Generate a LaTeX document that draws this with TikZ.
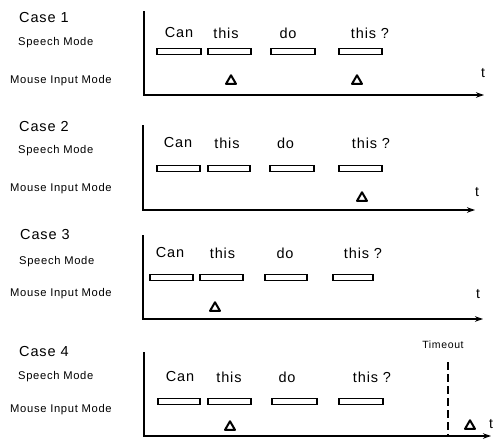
\documentclass[tikz,border=0pt]{standalone}
\usepackage{fontspec}
\setmainfont{Liberation Sans}
\newfontfamily\wide{Liberation Sans}[LetterSpace=6]
\usetikzlibrary{arrows.meta,shapes.geometric}

\tikzset{
  casetitle/.style={anchor=west, inner sep=0pt, font=\wide\fontsize{14.5}{15}\selectfont},
  modelabel/.style={anchor=west, inner sep=0pt, font=\wide\fontsize{11.2}{12}\selectfont},
  word/.style={inner sep=0pt, font=\wide\fontsize{14.5}{15}\selectfont},
  tlabel/.style={inner sep=0pt, font=\fontsize{14}{15}\selectfont},
  smalllabel/.style={inner sep=0pt, font=\wide\fontsize{10.5}{11}\selectfont},
  wordbox/.style={draw, line width=1.1pt, inner sep=0pt, minimum height=6.5pt},
  click/.style={draw, regular polygon, regular polygon sides=3, minimum size=11.5pt,
                inner sep=0pt, line width=2pt, line join=round},
  axisline/.style={line width=1.1pt, -{Stealth[length=8pt,width=5.5pt]}},
  timeline/.style={line width=1.1pt, dash pattern=on 8pt off 4pt},
}

\begin{document}
\begin{tikzpicture}[x=1pt,y=-1pt]
\useasboundingbox (0,0) rectangle (500,439);

% ---------- Case 1 ----------
\node[casetitle] (t1) at (19,18) {Case 1};
\node[modelabel] (s1) at (18,43) {Speech Mode};
\node[modelabel] (m1) at (10,81) {Mouse Input Mode};
\coordinate (top1) at (144,11);
\coordinate (o1) at (144,95);
\coordinate (e1) at (484,95);
\draw[axisline] (top1) -- (o1) -- (e1);
\node[tlabel] (tt1) at (483,73) {t};
\node[word] (w11) at (179,33) {Can};
\node[word] (w12) at (226,33) {this};
\node[word] (w13) at (288,33) {do};
\node[word] (w14) at (370,33) {this ?};
\node[wordbox, minimum width=44pt] (b11) at (179,51.5) {};
\node[wordbox, minimum width=43pt] (b12) at (229.5,51.5) {};
\node[wordbox, minimum width=44pt] (b13) at (293,51.5) {};
\node[wordbox, minimum width=43pt] (b14) at (360.5,51.5) {};
\node[click] (c11) at (231,81) {};
\node[click] (c12) at (357,81) {};

% ---------- Case 2 ----------
\node[casetitle] (t2) at (19,127) {Case 2};
\node[modelabel] (s2) at (18,151) {Speech Mode};
\node[modelabel] (m2) at (10,189) {Mouse Input Mode};
\coordinate (top2) at (143,125);
\coordinate (o2) at (143,210);
\coordinate (e2) at (475,210);
\draw[axisline] (top2) -- (o2) -- (e2);
\node[tlabel] (tt2) at (477,192) {t};
\node[word] (w21) at (178,143) {Can};
\node[word] (w22) at (227,143) {this};
\node[word] (w23) at (285.5,143) {do};
\node[word] (w24) at (371,143) {this ?};
\node[wordbox, minimum width=43pt] (b21) at (178.5,168.5) {};
\node[wordbox, minimum width=42pt] (b22) at (229,168.5) {};
\node[wordbox, minimum width=44pt] (b23) at (292,168.5) {};
\node[wordbox, minimum width=43pt] (b24) at (360.5,168.5) {};
\node[click] (c21) at (362,198) {};

% ---------- Case 3 ----------
\node[casetitle] (t3) at (20,235) {Case 3};
\node[modelabel] (s3) at (19,262) {Speech Mode};
\node[modelabel] (m3) at (10,294) {Mouse Input Mode};
\coordinate (top3) at (143,235);
\coordinate (o3) at (143,319);
\coordinate (e3) at (483,319);
\draw[axisline] (top3) -- (o3) -- (e3);
\node[tlabel] (tt3) at (478,294) {t};
\node[word] (w31) at (170,253) {Can};
\node[word] (w32) at (222.5,253) {this};
\node[word] (w33) at (285,253) {do};
\node[word] (w34) at (363,253) {this ?};
\node[wordbox, minimum width=43pt] (b31) at (171.5,277.5) {};
\node[wordbox, minimum width=43pt] (b32) at (221.5,277.5) {};
\node[wordbox, minimum width=42pt] (b33) at (286,277.5) {};
\node[wordbox, minimum width=40pt] (b34) at (353,277.5) {};
\node[click] (c31) at (215,308) {};

% ---------- Case 4 ----------
\node[casetitle] (t4) at (19,352) {Case 4};
\node[modelabel] (s4) at (18,377) {Speech Mode};
\node[modelabel] (m4) at (10,410) {Mouse Input Mode};
\coordinate (top4) at (144,352);
\coordinate (o4) at (144,436);
\coordinate (e4) at (491,436);
\draw[axisline] (top4) -- (o4) -- (e4);
\node[tlabel] (tt4) at (491,424) {t};
\node[word] (w41) at (180,377) {Can};
\node[word] (w42) at (229,377) {this};
\node[word] (w43) at (287,377) {do};
\node[word] (w44) at (372,377) {this ?};
\node[wordbox, minimum width=42pt] (b41) at (179,401.5) {};
\node[wordbox, minimum width=43pt] (b42) at (229.5,401.5) {};
\node[wordbox, minimum width=45pt] (b43) at (294.5,401.5) {};
\node[wordbox, minimum width=44pt] (b44) at (361,401.5) {};
\node[click] (c41) at (230,427) {};
\node[click] (c42) at (470,426) {};
\node[smalllabel] (to4) at (443,345) {Timeout};
\coordinate (tb4) at (448,362);
\coordinate (tf4) at (448,436);
\draw[timeline] (tb4) -- (tf4);
\end{tikzpicture}
\end{document}
